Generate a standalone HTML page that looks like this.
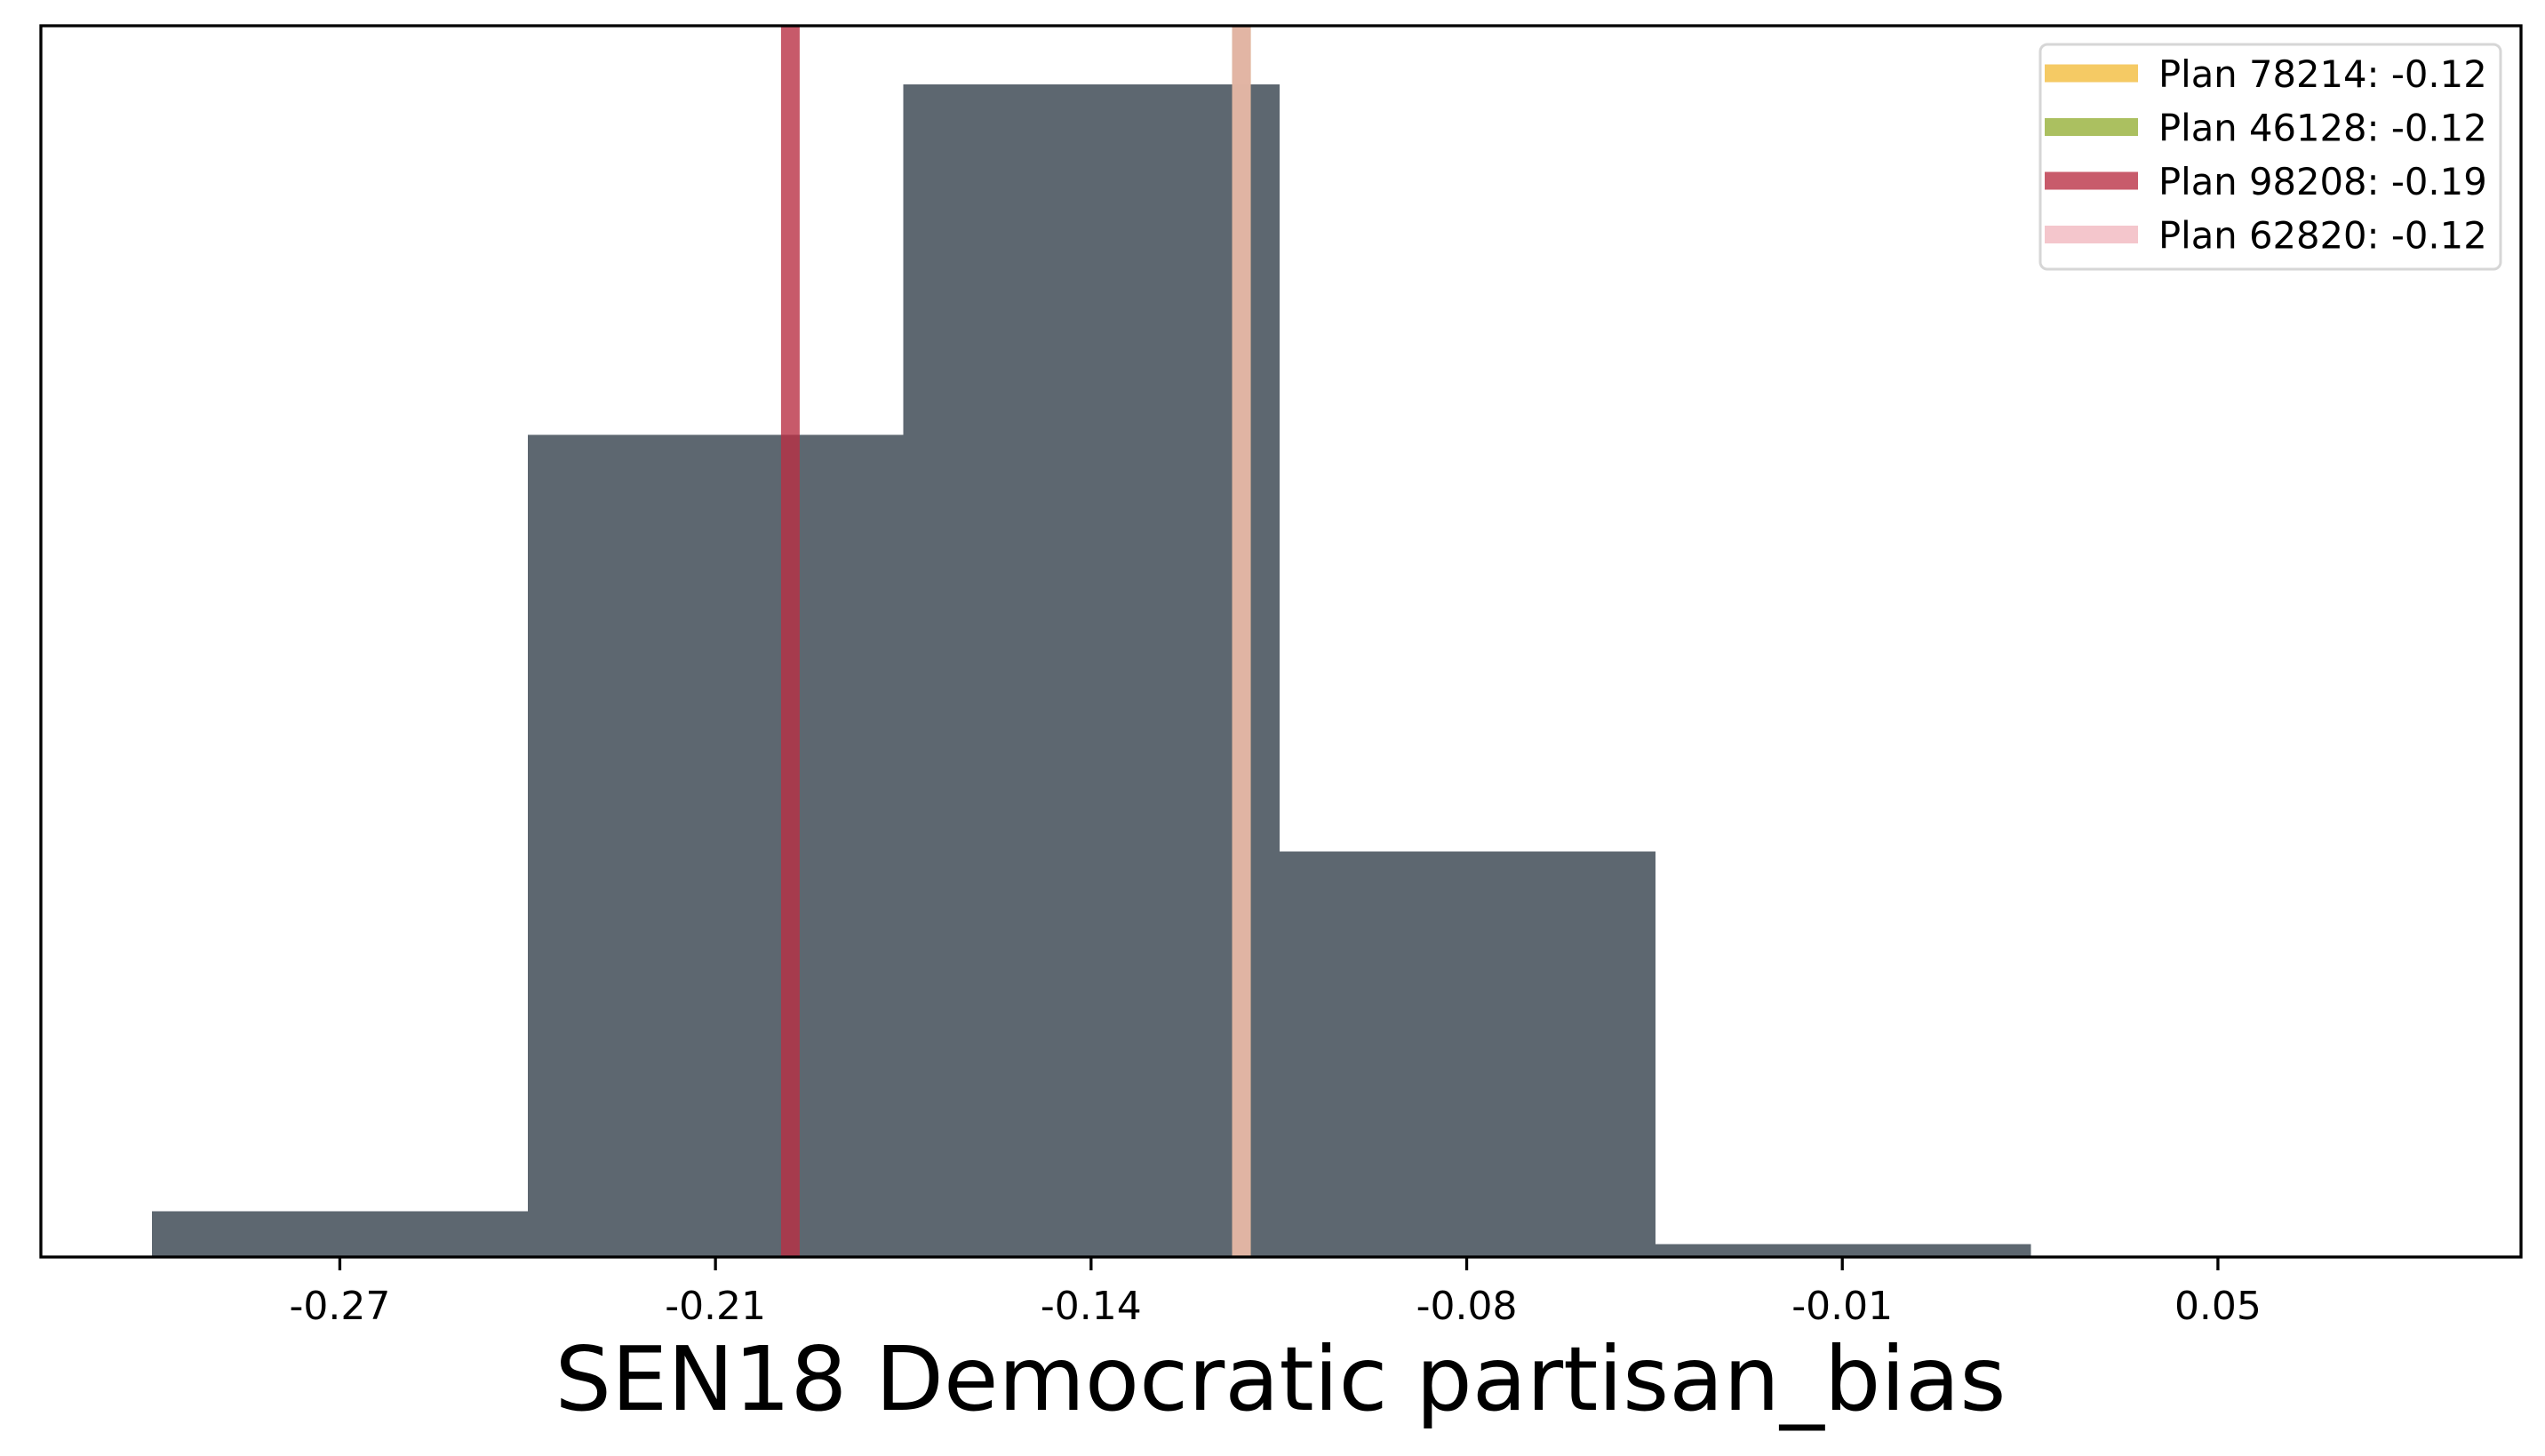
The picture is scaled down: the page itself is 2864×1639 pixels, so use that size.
<!DOCTYPE html>
<html><head><meta charset="utf-8"><style>
html,body{margin:0;padding:0;background:#fff;}
svg{display:block;font-family:"DejaVu Sans","Liberation Sans",sans-serif;}
</style></head><body>
<svg id="chart" width="2864" height="1639" viewBox="0 0 2864 1639" xmlns="http://www.w3.org/2000/svg">
<rect x="0" y="0" width="2864" height="1639" fill="#fff"/>
<g id="bars" shape-rendering="crispEdges"></g>
<g id="vlines"></g>
<rect x="46" y="29" width="2791" height="1386" fill="none" stroke="#000" stroke-width="3.3"/>
<g id="ticks"></g>
<text x="1441" y="1587" font-size="100" text-anchor="middle" fill="#000">SEN18 Democratic partisan_bias</text>
<g id="legend">
<rect x="2296" y="50" width="518" height="253" rx="8" fill="#fff" fill-opacity="0.8" stroke="#d6d6d6" stroke-width="3"/>
</g>
</svg>
<script>
const binEdges = [-0.30185, -0.23815, -0.17445, -0.11075, -0.04705, 0.01665];
const counts = [39, 701, 1000, 346, 11];
const tickValues = [-0.27, -0.2063, -0.1426, -0.0789, -0.0152, 0.0485];
const tickLabels = ["-0.27", "-0.21", "-0.14", "-0.08", "-0.01", "0.05"];
const planNames = ["Plan 78214", "Plan 46128", "Plan 98208", "Plan 62820"];
const planValues = [-0.1171, -0.1171, -0.1936, -0.1171];
const planLabels = ["-0.12", "-0.12", "-0.19", "-0.12"];
const planColors = ["#f0b429", "#8aab33", "#b93145", "#f2b6bf"];
const legendColors = ["#f5ca64", "#abc060", "#c85b6b", "#f4c6cc"];

const NS = "http://www.w3.org/2000/svg";
const X0 = 46, X1 = 2837, Y0 = 29, Y1 = 1415;
const xMin = -0.3207, xMax = 0.0999;
const yMax = Math.max(...counts) * 1.05;
function xs(v){ return X0 + (v - xMin) / (xMax - xMin) * (X1 - X0); }
function ys(c){ return Y1 - c / yMax * (Y1 - Y0); }
function mk(tag, attrs){ const e = document.createElementNS(NS, tag); for (const k in attrs) e.setAttribute(k, attrs[k]); return e; }

const gb = document.getElementById("bars");
counts.forEach((c, i) => {
  const x = xs(binEdges[i]), x2 = xs(binEdges[i] + (binEdges[1] - binEdges[0]));
  const r = mk("rect", {x: x, y: ys(c), width: x2 - x + 1, height: Y1 - ys(c), fill: "#5d6770"});
  
  
  gb.appendChild(r);
});

const gv = document.getElementById("vlines");
planValues.forEach((v, i) => {
  const l = mk("rect", {x: xs(v) - 10.5, y: Y0, width: 21, height: Y1 - Y0, fill: planColors[i], "fill-opacity": 0.8});
  
  
  gv.appendChild(l);
});

const gt = document.getElementById("ticks");
tickValues.forEach((v, i) => {
  const t = mk("line", {x1: xs(v), x2: xs(v), y1: Y1, y2: Y1 + 15, stroke: "#000", "stroke-width": 3.3});
  
  
  gt.appendChild(t);
  const tx = mk("text", {x: xs(v), y: 1485, "font-size": 44, "text-anchor": "middle", fill: "#000"});
  tx.textContent = tickLabels[i];
  
  
  gt.appendChild(tx);
});

const gl = document.getElementById("legend");
planNames.forEach((n, i) => {
  const cy = 82.5 + i * 60.5;
  const sw = mk("rect", {x: 2301, y: cy - 10, width: 105, height: 20, fill: legendColors[i]});
  
  
  gl.appendChild(sw);
  const tx = mk("text", {x: 2429, y: cy + 15.5, "font-size": 41.7, fill: "#000"});
  tx.textContent = n + ": " + planLabels[i];
  
  
  gl.appendChild(tx);
});
</script>
</body></html>
